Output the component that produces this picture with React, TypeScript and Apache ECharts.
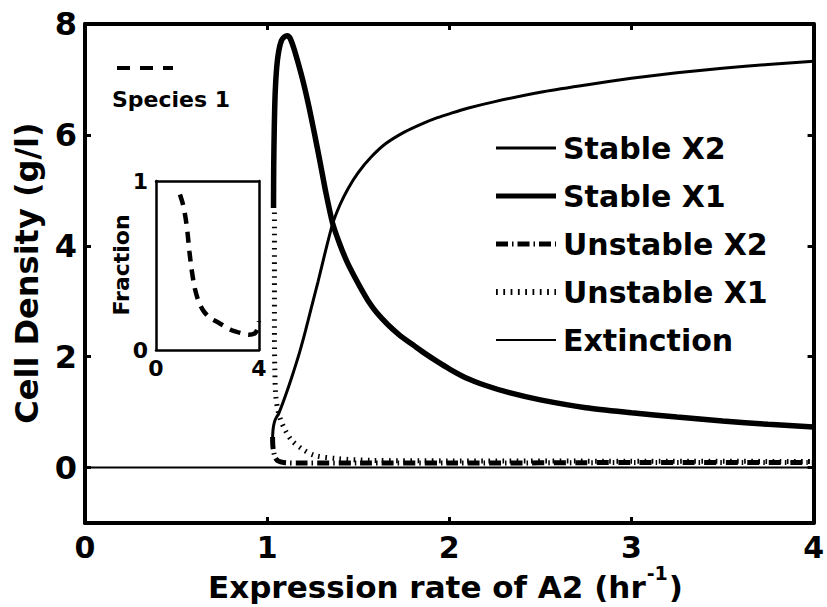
import React, { useEffect, useRef } from "react";
import * as echarts from "echarts";

// ---------- data ----------
const xTickValues = [0, 1, 2, 3, 4];
const yTickValues = [0, 2, 4, 6, 8];
const insetXTickValues = [0, 4];
const insetYTickValues = [0, 1];

const extinction = [[0, 0], [4, 0]];

const stableX2 = [
  [1.03, 0.55], [1.033, 0.7], [1.04, 0.82], [1.05, 0.9], [1.063, 0.97], [1.09, 1.2],
  [1.12, 1.48], [1.15, 1.78], [1.18, 2.1], [1.21, 2.46], [1.24, 2.85], [1.28, 3.36],
  [1.32, 3.9], [1.36, 4.4], [1.4, 4.74], [1.444, 5.03], [1.5, 5.32], [1.571, 5.6],
  [1.65, 5.84], [1.753, 6.05], [1.85, 6.2], [1.935, 6.31], [2.0, 6.38], [2.1, 6.48],
  [2.25, 6.6], [2.5, 6.77], [2.75, 6.9], [3.0, 7.02], [3.25, 7.12], [3.5, 7.2],
  [3.75, 7.27], [4.0, 7.33],
];

const stableX1 = [
  [1.035, 4.68], [1.036, 5.4], [1.039, 6.1], [1.044, 6.75], [1.052, 7.2], [1.063, 7.5],
  [1.078, 7.7], [1.095, 7.77], [1.11, 7.79], [1.125, 7.75], [1.145, 7.58], [1.17, 7.3],
  [1.2, 6.93], [1.23, 6.5], [1.26, 6.02], [1.29, 5.52], [1.32, 5.0], [1.36, 4.4],
  [1.4, 4.02], [1.44, 3.7], [1.48, 3.44], [1.52, 3.2], [1.556, 3.0], [1.6, 2.8],
  [1.662, 2.58], [1.73, 2.38], [1.81, 2.19], [1.87, 2.05], [1.935, 1.91], [2.0, 1.78],
  [2.09, 1.62], [2.2, 1.48], [2.33, 1.35], [2.5, 1.22], [2.75, 1.08], [3.0, 0.99],
  [3.25, 0.91], [3.5, 0.84], [3.75, 0.78], [4.0, 0.73],
];

const unstableX2 = [
  [1.03, 0.55], [1.031, 0.4], [1.036, 0.28], [1.045, 0.18], [1.06, 0.12], [1.09, 0.09],
  [1.2, 0.08], [1.5, 0.08], [2.0, 0.08], [3.0, 0.09], [4.0, 0.09],
];

const unstableX1 = [
  [1.04, 4.6], [1.04, 3.5], [1.04, 2.5], [1.042, 1.8], [1.047, 1.3], [1.058, 1.05],
  [1.075, 0.85], [1.1, 0.67], [1.135, 0.49], [1.19, 0.34], [1.26, 0.22], [1.39, 0.16],
  [1.57, 0.13], [2.0, 0.12], [3.0, 0.115], [4.0, 0.11],
];

const species1Fraction = [
  [0.93, 0.92], [1.05, 0.86], [1.15, 0.78], [1.22, 0.7], [1.3, 0.58], [1.38, 0.48],
  [1.5, 0.37], [1.65, 0.29], [1.85, 0.23], [2.1, 0.19], [2.45, 0.16], [2.9, 0.12],
  [3.3, 0.1], [3.6, 0.09], [3.85, 0.1], [3.95, 0.13], [4.0, 0.17],
];

const legendLabels = ["Stable X2", "Stable X1", "Unstable X2", "Unstable X1", "Extinction"];
const insetLegendLabel = "Species 1";
const xAxisTitleMain = "Expression rate of A2 (hr";
const xAxisTitleSup = "-1";
const xAxisTitleEnd = ")";
const yAxisTitle = "Cell Density (g/l)";
const insetYAxisTitle = "Fraction";

// ---------- styles ----------
const FONT = "'DejaVu Sans', sans-serif";
const BLACK = "#000";

const legendStyles = [
  { width: 3, dash: null as number[] | null },
  { width: 5, dash: null },
  { width: 5, dash: [12, 4, 1.5, 4] },
  { width: 6, dash: [1.8, 5.5] },
  { width: 2, dash: null },
];

function mainAxisCommon(labels: boolean, fontSize: number, margin: number) {
  return {
    axisLine: { onZero: false, lineStyle: { color: BLACK, width: 4 } },
    axisTick: { inside: true, length: 6, lineStyle: { color: BLACK, width: 3 } },
    axisLabel: {
      show: labels,
      color: BLACK,
      fontSize,
      fontWeight: "bold",
      fontFamily: FONT,
      margin,
    },
    splitLine: { show: false },
  };
}

function insetAxisCommon(labels: boolean, margin: number) {
  return {
    axisLine: { onZero: false, lineStyle: { color: BLACK, width: 2.5 } },
    axisTick: { show: false },
    axisLabel: {
      show: labels,
      color: BLACK,
      fontSize: 22,
      fontWeight: "bold",
      fontFamily: FONT,
      margin,
    },
    splitLine: { show: false },
  };
}

function measure(text: string, font: string, fallbackPerChar: number) {
  try {
    const ctx = document.createElement("canvas").getContext("2d");
    if (ctx) {
      ctx.font = font;
      return ctx.measureText(text).width;
    }
  } catch (e) {
    /* ignore */
  }
  return text.length * fallbackPerChar;
}

export default function App() {
  const ref = useRef<HTMLDivElement>(null);

  useEffect(() => {
    if (!ref.current) return;
    const chart = echarts.init(ref.current, null, { renderer: "svg" });

    const textStyle = (text: string, size: number, align: string, vAlign: string) => ({
      text,
      fill: BLACK,
      fontSize: size,
      fontWeight: "bold",
      fontFamily: FONT,
      align,
      verticalAlign: vAlign,
      textAlign: align,
      textVerticalAlign: vAlign,
    });

    const legendRowsY = [148, 196, 244, 292, 340];
    const legendGraphics: any[] = [];
    legendLabels.forEach((label, i) => {
      const st = legendStyles[i];
      legendGraphics.push({
        type: "line",
        shape: { x1: 496, y1: legendRowsY[i], x2: 556, y2: legendRowsY[i] },
        style: { stroke: BLACK, lineWidth: st.width, lineDash: st.dash || undefined, lineCap: "butt" },
        z: 100,
      });
      legendGraphics.push({
        type: "text",
        x: 563,
        y: legendRowsY[i],
        style: textStyle(label, 30, "left", "middle"),
        z: 100,
      });
    });

    // x-axis title with superscript, laid out from measured widths
    const titleSize = 31;
    const supSize = 19;
    const titleX = 208;
    const titleY = 587;
    const wMain = measure(xAxisTitleMain, `bold ${titleSize}px DejaVu Sans`, 17.5);
    const wSup = measure(xAxisTitleSup, `bold ${supSize}px DejaVu Sans`, 10.5);

    const option: any = {
      animation: false,
      backgroundColor: "#fff",
      grid: [
        { left: 85, top: 24, width: 734, height: 499, containLabel: false },
        { left: 156, top: 181, width: 103, height: 169, containLabel: false },
      ],
      xAxis: [
        {
          type: "value", gridIndex: 0, min: 0, max: 4, interval: 1, position: "bottom",
          ...mainAxisCommon(true, 30, 9),
          axisLabel: { ...mainAxisCommon(true, 30, 9).axisLabel, customValues: xTickValues },
          axisTick: { ...mainAxisCommon(true, 30, 9).axisTick, customValues: xTickValues },
        },
        {
          type: "value", gridIndex: 0, min: 0, max: 4, interval: 1, position: "top",
          ...mainAxisCommon(false, 30, 9),
        },
        {
          type: "value", gridIndex: 1, min: 0, max: 4, interval: 4, position: "bottom",
          ...insetAxisCommon(true, 7),
          axisLabel: { ...insetAxisCommon(true, 7).axisLabel, customValues: insetXTickValues },
        },
        {
          type: "value", gridIndex: 1, min: 0, max: 4, interval: 4, position: "top",
          ...insetAxisCommon(false, 7),
        },
      ],
      yAxis: [
        {
          type: "value", gridIndex: 0, min: -1, max: 8, interval: 1, position: "left",
          ...mainAxisCommon(true, 32, 8),
          axisLabel: { ...mainAxisCommon(true, 32, 8).axisLabel, customValues: yTickValues },
          axisTick: { ...mainAxisCommon(true, 32, 8).axisTick, customValues: yTickValues },
        },
        {
          type: "value", gridIndex: 0, min: -1, max: 8, interval: 1, position: "right",
          ...mainAxisCommon(false, 32, 8),
          axisTick: { ...mainAxisCommon(false, 32, 8).axisTick, customValues: yTickValues },
        },
        {
          type: "value", gridIndex: 1, min: 0, max: 1, interval: 1, position: "left",
          ...insetAxisCommon(true, 8),
          axisLabel: { ...insetAxisCommon(true, 8).axisLabel, customValues: insetYTickValues },
        },
        {
          type: "value", gridIndex: 1, min: 0, max: 1, interval: 1, position: "right",
          ...insetAxisCommon(false, 8),
        },
      ],
      series: [
        {
          name: "Extinction", type: "line", xAxisIndex: 0, yAxisIndex: 0, data: extinction,
          showSymbol: false, symbol: "none", silent: true,
          lineStyle: { color: BLACK, width: 2 }, z: 2,
        },
        {
          name: "Unstable X2", type: "line", xAxisIndex: 0, yAxisIndex: 0, data: unstableX2,
          showSymbol: false, symbol: "none", silent: true, smooth: 0.3,
          lineStyle: { color: BLACK, width: 5, type: [12, 4, 1.5, 4], cap: "butt" }, z: 3,
        },
        {
          name: "Unstable X1", type: "line", xAxisIndex: 0, yAxisIndex: 0, data: unstableX1,
          showSymbol: false, symbol: "none", silent: true, smooth: 0.3,
          lineStyle: { color: BLACK, width: 5, type: [1.6, 5.5], cap: "butt" }, z: 4,
        },
        {
          name: "Stable X2", type: "line", xAxisIndex: 0, yAxisIndex: 0, data: stableX2,
          showSymbol: false, symbol: "none", silent: true, smooth: 0.25,
          lineStyle: { color: BLACK, width: 3 }, z: 5,
        },
        {
          name: "Stable X1", type: "line", xAxisIndex: 0, yAxisIndex: 0, data: stableX1,
          showSymbol: false, symbol: "none", silent: true, smooth: 0.25,
          lineStyle: { color: BLACK, width: 5.5 }, z: 6,
        },
        {
          name: "Species 1", type: "line", xAxisIndex: 2, yAxisIndex: 2, data: species1Fraction,
          showSymbol: false, symbol: "none", silent: true, smooth: 0.3,
          lineStyle: { color: BLACK, width: 4.5, type: [11, 8], cap: "butt" }, z: 6,
        },
      ],
      graphic: [
        {
          type: "text",
          x: 27,
          y: 273,
          rotation: Math.PI / 2,
          style: textStyle(yAxisTitle, 32, "center", "middle"),
        },
        {
          type: "text",
          x: titleX,
          y: titleY,
          style: textStyle(xAxisTitleMain, titleSize, "left", "middle"),
        },
        {
          type: "text",
          x: titleX + wMain + 1,
          y: titleY - 14,
          style: textStyle(xAxisTitleSup, supSize, "left", "middle"),
        },
        {
          type: "text",
          x: titleX + wMain + wSup + 2,
          y: titleY,
          style: textStyle(xAxisTitleEnd, titleSize, "left", "middle"),
        },
        {
          type: "text",
          x: 121,
          y: 265,
          rotation: Math.PI / 2,
          style: textStyle(insetYAxisTitle, 22, "center", "middle"),
        },
        {
          type: "line",
          shape: { x1: 117, y1: 68, x2: 173, y2: 68 },
          style: { stroke: BLACK, lineWidth: 4, lineDash: [13, 10], lineCap: "butt" },
        },
        {
          type: "text",
          x: 112,
          y: 99,
          style: textStyle(insetLegendLabel, 22, "left", "middle"),
        },
        ...legendGraphics,
      ],
    };

    chart.setOption(option);
    return () => chart.dispose();
  }, []);

  return (
    <div
      ref={ref}
      style={{ position: "fixed", left: 0, top: 0, width: 827, height: 607, background: "#fff" }}
    />
  );
}
